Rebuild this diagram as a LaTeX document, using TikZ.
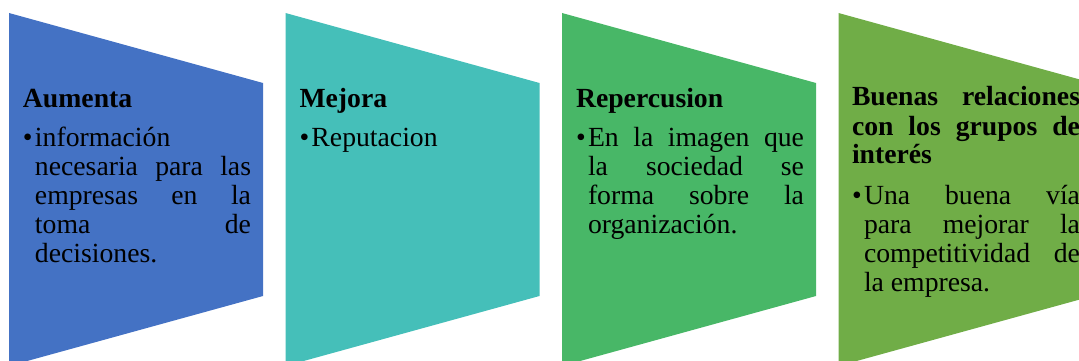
\documentclass[tikz,border=0pt]{standalone}
\usepackage{fontspec}
\setmainfont{Liberation Serif}
\definecolor{cA}{HTML}{4472C4}
\definecolor{cB}{HTML}{45BFB9}
\definecolor{cC}{HTML}{48B767}
\definecolor{cD}{HTML}{70AD47}
\newcommand\bitem[1]{\noindent\makebox[12pt][l]{•}#1\par}
\newcommand\bjitem[1]{\noindent\makebox[12pt][l]{•}\makebox[216pt][s]{#1}\par}
\newcommand\jline[1]{\noindent\hspace*{12pt}\makebox[216pt][s]{#1}\par}
\newcommand\lline[1]{\noindent\hspace*{12pt}#1\par}
\newcommand\tjline[1]{\noindent\makebox[228pt][s]{\bfseries #1}\par}
\newcommand\tline[1]{\noindent{\bfseries #1}\par}
\newcommand\boxtext[1]{\parbox[t]{232pt}{\fontsize{27.7}{29}\selectfont #1}}
\tikzset{
  shapefill/.style={fill=#1, draw=none},
  txt/.style={anchor=base west, inner sep=0pt, outer sep=0pt}
}
\begin{document}
\begin{tikzpicture}[x=1pt,y=-1pt]
\useasboundingbox (0,0) rectangle (1079,361);
\clip (0,0) rectangle (1079,361);
\foreach \L/\c in {9/cA, 285.5/cB, 562/cC, 838.5/cD}{
  \fill[shapefill=\c] (\L,13) -- (\L+254,83) -- (\L+254,296) -- (\L,366) -- cycle;
}
\node[txt] (t1) at (23,107) {\boxtext{%
  \tline{Aumenta}\vspace{10pt}
  \bitem{información}
  \jline{necesaria para las}
  \jline{empresas en la}
  \jline{toma de}
  \lline{decisiones.}}};
\node[txt] (t2) at (299.5,107) {\boxtext{%
  \tline{Mejora}\vspace{10pt}
  \bitem{Reputacion}}};
\node[txt] (t3) at (576,107) {\boxtext{%
  \tline{Repercusion}\vspace{10pt}
  \bjitem{En la imagen que}
  \jline{la sociedad se}
  \jline{forma sobre la}
  \lline{organización.}}};
\node[txt] (t4) at (852,106) {\boxtext{%
  \tjline{Buenas relaciones}
  \tjline{con los grupos de}
  \tline{interés}\vspace{12pt}
  \bjitem{Una buena vía}
  \jline{para mejorar la}
  \jline{competitividad de}
  \lline{la empresa.}}};
\end{tikzpicture}
\end{document}
